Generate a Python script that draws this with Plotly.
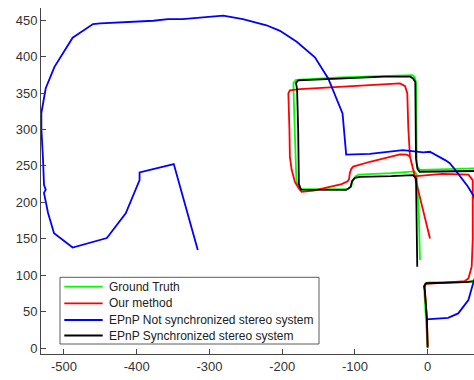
import plotly.graph_objects as go

# ---------------- data ----------------
series_names = ["Ground Truth", "Our method",
                "EPnP Not synchronized stereo system",
                "EPnP Synchronized stereo system"]

gt_x = [0, -2, -5, -3, 2, 30, 55, 80, 80, 64, 30, -10, -13, -15, -16, -18, -21,
        -60, -120, -181, -184.5, -184, -182, -180.5, -178, -175, -140, -109, -105,
        -103, -99, -95, -50, -18, -15, -12, -10.6]
gt_y = [0, 40, 84, 89, 90, 90, 91, 95, 245, 246.6, 246, 244.5, 247, 252, 365, 372,
        374.6, 373.5, 371.5, 368, 364, 340, 280, 231, 221, 218, 218, 218.5, 222,
        230, 236, 238, 240, 242.5, 238, 180, 121]

ours_x = [0, -1, -4, -3, 20, 51, 56, 60.5, 62, 61.9, 56, 20, -15.5, -17.5, -24.3,
          -26.7, -28, -31, -38, -111.4, -175.6, -189.4, -191.5, -190, -189.4, -187,
          -182.5, -177, -173.3, -157, -125, -118.3, -110, -108, -107, -105, -102.3,
          -79.4, -38, -29, -26, -24.3, -17.5, -15.3, 3.2]
ours_y = [0, 40, 82, 88, 89.5, 92, 95.6, 111.6, 150, 230.5, 238, 239, 236, 236,
          262.5, 303.7, 349.5, 359.5, 363.3, 359, 355.5, 353.6, 349.5, 300, 262.5,
          245, 228, 219, 214.5, 216, 223.7, 225, 229, 232, 240, 246, 249, 255.7,
          265.8, 265.5, 264, 262.5, 235, 226, 150.5]

nosync_x = [-316, -349, -396, -396, -415, -441, -488, -513.6, -521.8, -527.4, -525,
            -527.4, -528.7, -531, -531, -525, -513, -488, -460, -450, -377, -357,
            -337, -281, -254, -221.5, -203, -180, -155, -136.7, -117, -112, -79.4,
            -34, -6, 3, 24, 30, 36, 45, 55, 63.7, 72, 74, 63.7, 56, 42, 28, -2]
nosync_y = [134.5, 252.5, 241, 230.5, 185, 151, 138, 157.6, 185.4, 212.9, 217.4,
            224, 258.5, 301.5, 322.6, 356.6, 386, 426, 444.6, 445.6, 449.2, 451.5,
            451.5, 456.3, 451.5, 443, 435.4, 420.3, 399, 370, 322, 265.5, 266.5,
            271.7, 268.5, 269.4, 258, 254, 247, 235, 222, 208, 170, 120, 93, 66,
            47.6, 41.6, 39.5]

sync_x = [0, -1, -4, -5, -2, 20, 52, 80, 80, 64, 20, -11, -14, -16, -17, -20, -24,
          -60, -106.7, -178, -181, -179.5, -178, -177, -174, -150, -112, -106, -104,
          -100, -93, -50, -20, -16, -15, -14.3]
sync_y = [2, 40, 80, 85, 89, 89.5, 90.5, 93, 242, 243, 243, 242, 246, 260, 365, 370,
          372.5, 372.5, 370.6, 367.4, 364, 355, 300, 225, 217.5, 217, 217, 221, 229,
          233.5, 235, 236, 237.4, 233, 180, 111.6]

colors = ["#00ff00", "#ff0000", "#0000ff", "#000000"]

x_tickvals = [-500, -400, -300, -200, -100, 0]
x_ticktext = ["-500", "-400", "-300", "-200", "-100", "0"]
y_tickvals = [0, 50, 100, 150, 200, 250, 300, 350, 400, 450]
y_ticktext = ["0", "50", "100", "150", "200", "250", "300", "350", "400", "450"]

# ---------------- layout geometry (pixels) ----------------
FIG_W, FIG_H = 474, 380
M_L, M_R, M_T, M_B = 41, 0, 8, 26
PW = FIG_W - M_L - M_R
PH = FIG_H - M_T - M_B


def px2paper_x(px):
    return (px - M_L) / PW


def px2paper_y(py):
    return (FIG_H - M_B - py) / PH


# ---------------- figure ----------------
fig = go.Figure()
for name, xs, ys, c in zip(series_names,
                           [gt_x, ours_x, nosync_x, sync_x],
                           [gt_y, ours_y, nosync_y, sync_y],
                           colors):
    fig.add_trace(go.Scatter(x=xs, y=ys, mode="lines", name=name,
                             showlegend=False,
                             line=dict(color=c, width=1.8)))

axis_common = dict(showline=True, linecolor="#454545", linewidth=1,
                   ticks="inside", ticklen=5, tickcolor="#454545",
                   showgrid=False, zeroline=False, mirror=False,
                   tickfont=dict(family="Liberation Sans, Arial, sans-serif",
                                 size=13, color="#333333"))

fig.update_xaxes(range=[-531.5, 63.7], tickmode="array",
                 tickvals=x_tickvals, ticktext=x_ticktext, **axis_common)
fig.update_yaxes(range=[-8.1, 466.7], tickmode="array",
                 tickvals=y_tickvals, ticktext=y_ticktext, **axis_common)

# legend box (MATLAB style)
box_l, box_r, box_t, box_b = 60, 319, 277.3, 344
fig.add_shape(type="rect", xref="paper", yref="paper",
              x0=px2paper_x(box_l), x1=px2paper_x(box_r),
              y0=px2paper_y(box_b), y1=px2paper_y(box_t),
              line=dict(color="#333333", width=0.8), fillcolor="white",
              layer="above")
row_y = [286.7, 303.3, 320, 335.5]
for name, c, ry in zip(series_names, colors, row_y):
    fig.add_shape(type="line", xref="paper", yref="paper",
                  x0=px2paper_x(64.3), x1=px2paper_x(102.7),
                  y0=px2paper_y(ry), y1=px2paper_y(ry),
                  line=dict(color=c, width=1.8), layer="above")
    fig.add_annotation(xref="paper", yref="paper",
                       x=px2paper_x(106.5), y=px2paper_y(ry),
                       xanchor="left", yanchor="middle", showarrow=False,
                       text=name,
                       font=dict(family="Liberation Sans, Arial, sans-serif",
                                 size=12, color="#222222"))

fig.update_layout(
    width=FIG_W, height=FIG_H,
    margin=dict(l=M_L, r=M_R, t=M_T, b=M_B),
    paper_bgcolor="white", plot_bgcolor="white",
    showlegend=False,
)

fig.write_html("out.html",
               config={"displayModeBar": False},
               post_script="document.body.style.margin='0';"
                           "document.body.style.overflow='hidden';")
